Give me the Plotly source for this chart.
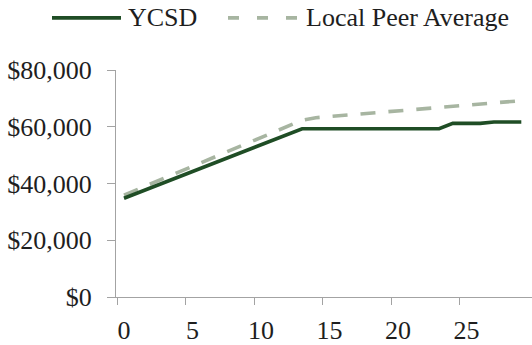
import plotly.graph_objects as go

# Years of experience (salary schedule steps)
years = list(range(30))

# Salary by step, YCSD
ycsd = [34800, 36680, 38570, 40450, 42340, 44220, 46110, 47990, 49880, 51760,
        53650, 55530, 57420, 59300, 59300, 59300, 59300, 59300, 59300, 59300,
        59300, 59300, 59300, 59300, 61200, 61200, 61200, 61700, 61700, 61700]

# Salary by step, local peer average
peer = [35900, 37930, 39960, 41990, 44020, 46050, 48080, 50110, 52140, 54170,
        56200, 58230, 60260, 62300, 63200, 63600, 64000, 64400, 64800, 65200,
        65600, 66000, 66400, 66800, 67200, 67600, 68000, 68400, 68800, 69200]

x_tick_labels = [0, 5, 10, 15, 20, 25]
y_ticks = [0, 20000, 40000, 60000, 80000]
y_tick_text = [f"${v:,}" for v in y_ticks]

GREEN = "#1F4D25"
SAGE = "#A7B5A1"
AXIS = "#A3A3A3"
TEXT = "#1E1E1E"
FONT = "Liberation Serif"

W, H = 532, 345
M_L, M_R, M_T, M_B = 116, 0, 70, 44
PW, PH = W - M_L - M_R, H - M_T - M_B


def px_x(p):
    return (p - M_L) / PW


def px_y(p):
    return (H - M_B - p) / PH


fig = go.Figure()
fig.add_trace(go.Scatter(x=years, y=peer, mode="lines", name="Local Peer Average",
                         line=dict(color=SAGE, width=3.6, dash="15px,13px")))
fig.add_trace(go.Scatter(x=years, y=ycsd, mode="lines", name="YCSD",
                         line=dict(color=GREEN, width=3.6)))

# Legend drawn above the plot with long line samples
legend_y = px_y(17)
fig.add_shape(type="line", xref="paper", yref="paper",
              x0=px_x(52), x1=px_x(121), y0=legend_y, y1=legend_y,
              line=dict(color=GREEN, width=3.6))
fig.add_shape(type="line", xref="paper", yref="paper",
              x0=px_x(228), x1=px_x(300), y0=legend_y, y1=legend_y,
              line=dict(color=SAGE, width=3.6, dash="11px,18px"))
fig.add_annotation(text="YCSD", xref="paper", yref="paper", x=px_x(126), y=legend_y,
                   xanchor="left", yanchor="middle", showarrow=False,
                   font=dict(family=FONT, size=26, color=TEXT))
fig.add_annotation(text="Local Peer Average", xref="paper", yref="paper", x=px_x(304),
                   y=legend_y, xanchor="left", yanchor="middle", showarrow=False,
                   font=dict(family=FONT, size=26, color=TEXT))

fig.update_layout(
    width=W, height=H,
    margin=dict(l=M_L, r=M_R, t=M_T, b=M_B),
    paper_bgcolor="white", plot_bgcolor="white",
    showlegend=False,
    font=dict(family=FONT, size=26, color=TEXT),
    xaxis=dict(
        range=[-0.584, 29.78],
        tickmode="array", tickvals=x_tick_labels,
        ticks="", showgrid=False, zeroline=False,
        showline=True, linecolor=AXIS, linewidth=1.3,
        ticklabelstandoff=10,
        tickfont=dict(family=FONT, size=26, color=TEXT),
        minor=dict(tickmode="array", tickvals=[v - 0.5 for v in x_tick_labels],
                   ticks="outside", ticklen=7, tickcolor=AXIS, tickwidth=1.3,
                   showgrid=False),
    ),
    yaxis=dict(
        range=[0, 80000],
        tickmode="array", tickvals=y_ticks, ticktext=y_tick_text,
        ticks="outside", ticklen=8, tickcolor=AXIS, tickwidth=1.3,
        showgrid=False, zeroline=False,
        showline=True, linecolor=AXIS, linewidth=1.3,
        ticklabelstandoff=10,
        tickfont=dict(family=FONT, size=26, color=TEXT),
    ),
)

fig.write_html("out.html")
